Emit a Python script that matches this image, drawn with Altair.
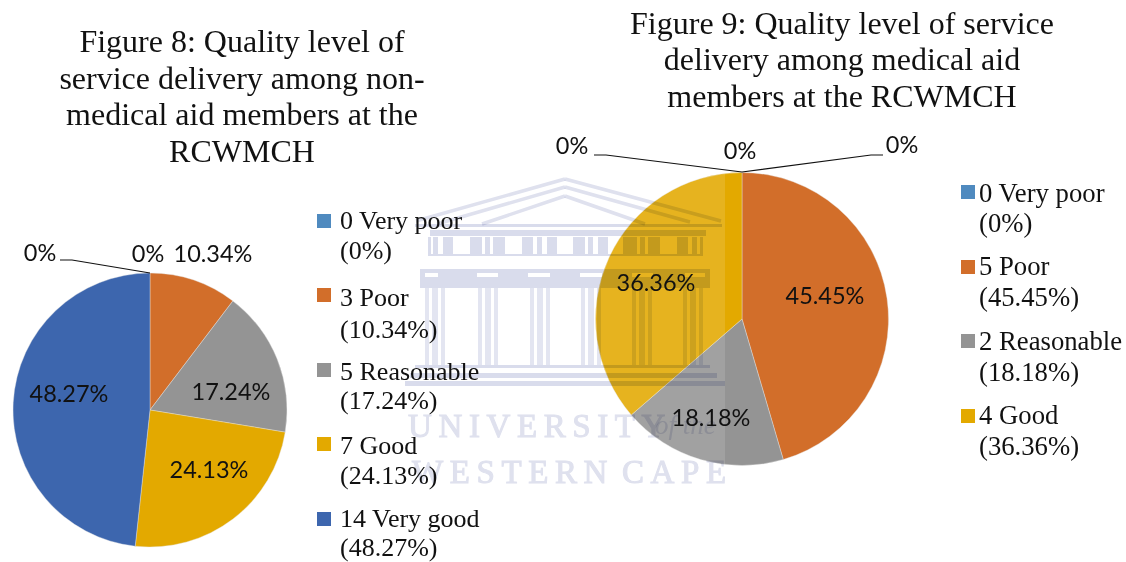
import altair as alt
import pandas as pd

W, H = 1126, 562
SERIF = "Liberation Serif"
SANS = "Lato"
CREST = "#dfe1ee"

# Survey answers, one slice per quality rating
left_pct = [0, 10.34, 17.24, 24.13, 48.27]
left_colors = ["#4f8abf", "#d26e2a", "#949494", "#e3a900", "#3d66ae"]
right_pct = [0, 45.45, 18.18, 36.36]
right_colors = ["#4f8abf", "#d26e2a", "#949494", "#e3a900"]

# Headings
title_left = ["Figure 8: Quality level of", "service delivery among non-", "medical aid members at the", "RCWMCH"]
title_left_y = [52, 89, 125, 162]
title_right = ["Figure 9: Quality level of service", "delivery among medical aid", "members at the RCWMCH"]
title_right_y = [34, 70, 107]

# Slice labels
slice_text = ["0%", "0%", "10.34%", "17.24%", "24.13%", "48.27%",
              "0%", "0%", "0%", "45.45%", "18.18%", "36.36%"]
slice_x = [40, 148, 213, 231, 209, 69, 572, 740, 902, 825, 711, 656]
slice_y = [261, 262, 262, 400, 478, 402, 154, 159, 153, 304, 426, 291]

# Legend entries
legend_left = ["0 Very poor", "(0%)", "3 Poor", "(10.34%)", "5 Reasonable", "(17.24%)",
               "7 Good", "(24.13%)", "14 Very good", "(48.27%)"]
legend_left_y = [229, 259, 306, 338, 380, 409, 454, 484, 527, 556]
legend_right = ["0 Very poor", "(0%)", "5 Poor", "(45.45%)", "2 Reasonable", "(18.18%)", "4 Good", "(36.36%)"]
legend_right_y = [202, 232, 275, 306, 350, 381, 424, 455]
swatch_x = [324] * 5 + [968] * 4
swatch_y = [221, 295, 370, 444, 519, 192, 267, 341, 416]
swatch_color = left_colors + right_colors

# Leader lines for the empty slices
leader_x = [60, 72, 150, 594, 606, 742, 742, 871, 883]
leader_y = [260, 260, 273, 155, 155, 172, 172, 155, 155]
leader_id = [0, 0, 0, 1, 1, 1, 2, 2, 2]

# Crest behind the charts: roof strokes
roof_x = [565, 565, 565, 565, 565, 565]
roof_x2 = [416, 721, 437, 690, 482, 645]
roof_y = [179, 179, 187, 187, 196, 196]
roof_y2 = [221, 221, 224, 222, 224, 224]

# Crest: cornice, frieze posts, architrave, capitals row and steps
block_x = [415, 430, 428, 433, 443, 470, 485, 493, 522, 537, 547, 573, 588, 598, 623, 640, 648, 677, 692, 700, 428,
           420, 420, 438, 498, 550, 602, 653, 705, 420, 415, 410, 405]
block_x2 = [722, 706, 431, 438, 453, 482, 490, 505, 533, 542, 557, 585, 593, 608, 637, 645, 660, 688, 697, 703, 703,
            710, 425, 477, 528, 580, 632, 685, 710, 710, 710, 717, 725]
block_y = [224, 230, 237, 237, 237, 237, 237, 237, 237, 237, 237, 237, 237, 237, 237, 237, 237, 237, 237, 237, 254,
           269, 273, 273, 273, 273, 273, 273, 273, 277, 365, 373, 381]
block_y2 = [227, 236, 254, 254, 254, 254, 254, 254, 254, 254, 254, 254, 254, 254, 254, 254, 254, 254, 254, 254, 256,
            273, 277, 277, 277, 277, 277, 277, 277, 288, 368, 378, 386]

# Crest: column shafts, three strips per column
shaft_x = [425, 432, 441, 478, 485, 494, 530, 537, 546, 581, 588, 597, 632, 639, 648, 683, 690, 699]
shaft_x2 = [429, 438, 445, 482, 491, 498, 534, 543, 550, 585, 594, 601, 636, 645, 652, 687, 696, 703]
shaft_top = 288
shaft_bottom = 365

# Crest lettering
crest_upright = ["\u2009".join("UNIVERSITY")]
crest_upright_x = [408]
crest_upright_y = [437]
crest_lower = ["\u2009".join("WESTERN"), "\u2009".join("CAPE")]
crest_lower_x = [412, 622]
crest_lower_y = [483, 483]
crest_italic = ["of the"]
crest_italic_x = [655]
crest_italic_y = [434]

# Faded area of the crest image
veil_x, veil_x2, veil_y, veil_y2 = [405], [725], [165], [490]

px = alt.Scale(domain=[0, W], range=[0, W], nice=False, zero=False)
py = alt.Scale(domain=[0, H], range=[0, H], nice=False, zero=False)
X = lambda f: alt.X(f, type="quantitative", scale=px, axis=None)
Y = lambda f: alt.Y(f, type="quantitative", scale=py, axis=None)


def pie(values, colors, cx, cy, r):
    df = pd.DataFrame({"v": values, "c": colors, "o": range(len(values))})
    return alt.Chart(df).mark_arc(outerRadius=r, stroke="#e6e6e6", strokeWidth=0.4).encode(
        theta=alt.Theta("v:Q", stack=True),
        order=alt.Order("o:Q"),
        color=alt.Color("c:N", scale=None),
        x=alt.value(cx),
        y=alt.value(cy),
    )


def text_layer(lines, xs, ys, font, size, align="center", color="#111111", **kw):
    df = pd.DataFrame({"t": lines, "x": xs, "y": ys})
    return alt.Chart(df).mark_text(font=font, fontSize=size, align=align, baseline="alphabetic", color=color, **kw).encode(
        x=X("x"), y=Y("y"), text="t:N"
    )


def rects(x, x2, y, y2, mark):
    df = pd.DataFrame({"x": x, "x2": x2, "y": y, "y2": y2})
    return mark(df).encode(x=X("x"), x2="x2:Q", y=Y("y"), y2="y2:Q")


pie_left = pie(left_pct, left_colors, 150, 410, 137)
pie_right = pie(right_pct, right_colors, 742, 319, 146.5)
pies = alt.layer(pie_left, pie_right).resolve_scale(theta="independent")

veil = rects(veil_x, veil_x2, veil_y, veil_y2,
             lambda d: alt.Chart(d).mark_rect(color="#ffffff", opacity=0.12))
blocks = rects(block_x, block_x2, block_y, block_y2,
               lambda d: alt.Chart(d).mark_rect(color="#d9dcec", blend="multiply"))
shafts = rects(shaft_x, shaft_x2, [shaft_top] * len(shaft_x), [shaft_bottom] * len(shaft_x),
               lambda d: alt.Chart(d).mark_rect(color="#e3e5f1", blend="multiply"))
roof = rects(roof_x, roof_x2, roof_y, roof_y2,
             lambda d: alt.Chart(d).mark_rule(color=CREST, strokeWidth=3.5, blend="multiply"))

leaders = alt.Chart(pd.DataFrame({"x": leader_x, "y": leader_y, "g": leader_id, "o": range(len(leader_x))})).mark_line(
    color="#111111", strokeWidth=1.2
).encode(x=X("x"), y=Y("y"), detail="g:N", order="o:Q")

swatches = alt.Chart(pd.DataFrame({"x": swatch_x, "y": swatch_y, "c": swatch_color})).mark_square(
    size=196, opacity=1
).encode(x=X("x"), y=Y("y"), color=alt.Color("c:N", scale=None))

crest_ink = dict(blend="multiply", stroke=CREST, strokeWidth=1)

chart = alt.layer(
    pies,
    veil,
    blocks,
    shafts,
    roof,
    text_layer(crest_upright, crest_upright_x, crest_upright_y, SERIF, 33, "left", CREST, **crest_ink),
    text_layer(crest_lower, crest_lower_x, crest_lower_y, SERIF, 33, "left", CREST, **crest_ink),
    text_layer(crest_italic, crest_italic_x, crest_italic_y, SERIF, 27, "left", CREST, blend="multiply", fontStyle="italic"),
    leaders,
    swatches,
    text_layer(title_left, [242] * 4, title_left_y, SERIF, 32),
    text_layer(title_right, [842] * 3, title_right_y, SERIF, 32),
    text_layer(slice_text, slice_x, slice_y, SANS, 23.5),
    text_layer(legend_left, [340] * 10, legend_left_y, SERIF, 26, "left"),
    text_layer(legend_right, [979] * 8, legend_right_y, SERIF, 26.7, "left"),
).properties(width=W, height=H, padding=0, autosize=alt.AutoSizeParams(type="none")).configure_view(stroke=None)

chart.save("out.html", embed_options={"renderer": "svg", "actions": False})
